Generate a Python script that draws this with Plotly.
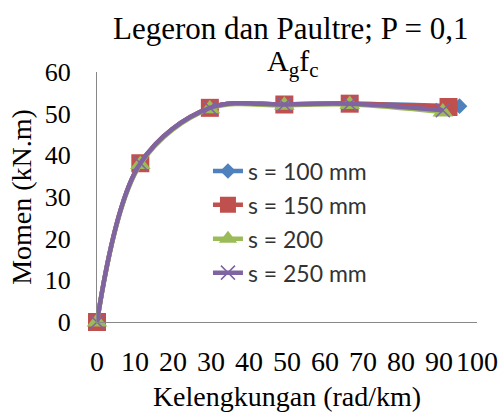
import plotly.graph_objects as go

# Moment-curvature data (curvature in rad/km, moment in kN.m)
labels = ["s = 100 mm", "s = 150 mm", "s = 200", "s = 250 mm"]
curv_100 = [0, 11.4, 29.7, 49.3, 66.5, 95.4]
mom_100 = [0, 38.1, 51.4, 52.2, 52.4, 51.8]
curv_150 = [0, 11.4, 29.7, 49.3, 66.5, 92.5]
mom_150 = [0, 38.1, 51.4, 52.2, 52.4, 51.6]
curv_200 = [0, 11.4, 29.7, 49.3, 66.5, 91.0]
mom_200 = [0, 37.8, 51.2, 52.0, 52.2, 50.4]
curv_250 = [0, 11.4, 29.7, 49.3, 66.5, 91.0]
mom_250 = [0, 38.1, 51.4, 52.2, 52.4, 50.8]

x_ticks = [0, 10, 20, 30, 40, 50, 60, 70, 80, 90, 100]
y_ticks = [0, 10, 20, 30, 40, 50, 60]

title_line1 = "Legeron dan Paultre; P = 0,1"
title_line2 = "A<sub>g</sub>f<sub>c</sub>"

series = [
    (labels[0], curv_100, mom_100, "#4F81BD", dict(symbol="diamond", size=12)),
    (labels[1], curv_150, mom_150, "#C0504D", dict(symbol="square", size=18)),
    (labels[2], curv_200, mom_200, "#9BBB59", dict(symbol="triangle-up", size=18)),
    (labels[3], curv_250, mom_250, "#8064A2",
     dict(symbol="x-thin", size=14, line=dict(width=1.5, color="#8064A2"))),
]

fig = go.Figure()
for i, (name, xs, ys, color, mk) in enumerate(series):
    fig.add_trace(go.Scatter(
        x=xs, y=ys, name=name, mode="lines+markers",
        line=dict(color=color, width=4.5, shape="spline", smoothing=1),
        marker=dict(color=color, **mk),
        legendgroup=f"g{i}", cliponaxis=False,
    ))

serif = "Liberation Serif"
title_font = dict(family=serif, size=31, color="black")

# two-line chart title above the plot area
fig.add_annotation(text=title_line1, xref="paper", yref="paper",
                   x=0.51, y=1.176, xanchor="center", yanchor="middle",
                   showarrow=False, font=title_font)
fig.add_annotation(text=title_line2, xref="paper", yref="paper",
                   x=0.515, y=1.035, xanchor="center", yanchor="middle",
                   showarrow=False, font=dict(family=serif, size=30, color="black"))

fig.update_layout(
    width=500, height=412,
    margin=dict(l=97, r=23, t=72, b=90),
    paper_bgcolor="white", plot_bgcolor="white",
    showlegend=True,
    legend=dict(
        x=0.292, y=0.69, xanchor="left", yanchor="top",
        bgcolor="rgba(255,255,255,0)",
        font=dict(family="Lato", size=23, color="#333333"),
        traceorder="grouped", tracegroupgap=1, itemwidth=30,
    ),
    xaxis=dict(
        range=[0, 100], tickvals=x_ticks, tickangle=0, automargin=False,
        showgrid=False, zeroline=False,
        showline=True, linecolor="#888888", linewidth=1,
        ticks="outside", ticklen=14, tickcolor="rgba(0,0,0,0)",
        tickfont=dict(family=serif, size=28, color="black"),
        title=dict(text="Kelengkungan (rad/km)", standoff=24,
                   font=dict(family=serif, size=28, color="black")),
    ),
    yaxis=dict(
        range=[0, 60], tickvals=y_ticks, automargin=False,
        showgrid=False, zeroline=False,
        showline=True, linecolor="#888888", linewidth=1,
        ticks="outside", ticklen=20, tickcolor="rgba(0,0,0,0)",
        tickfont=dict(family=serif, size=26, color="black"),
        title=dict(text="Momen (kN.m)", standoff=4,
                   font=dict(family=serif, size=28, color="black")),
    ),
)

fig.write_html("out.html")
